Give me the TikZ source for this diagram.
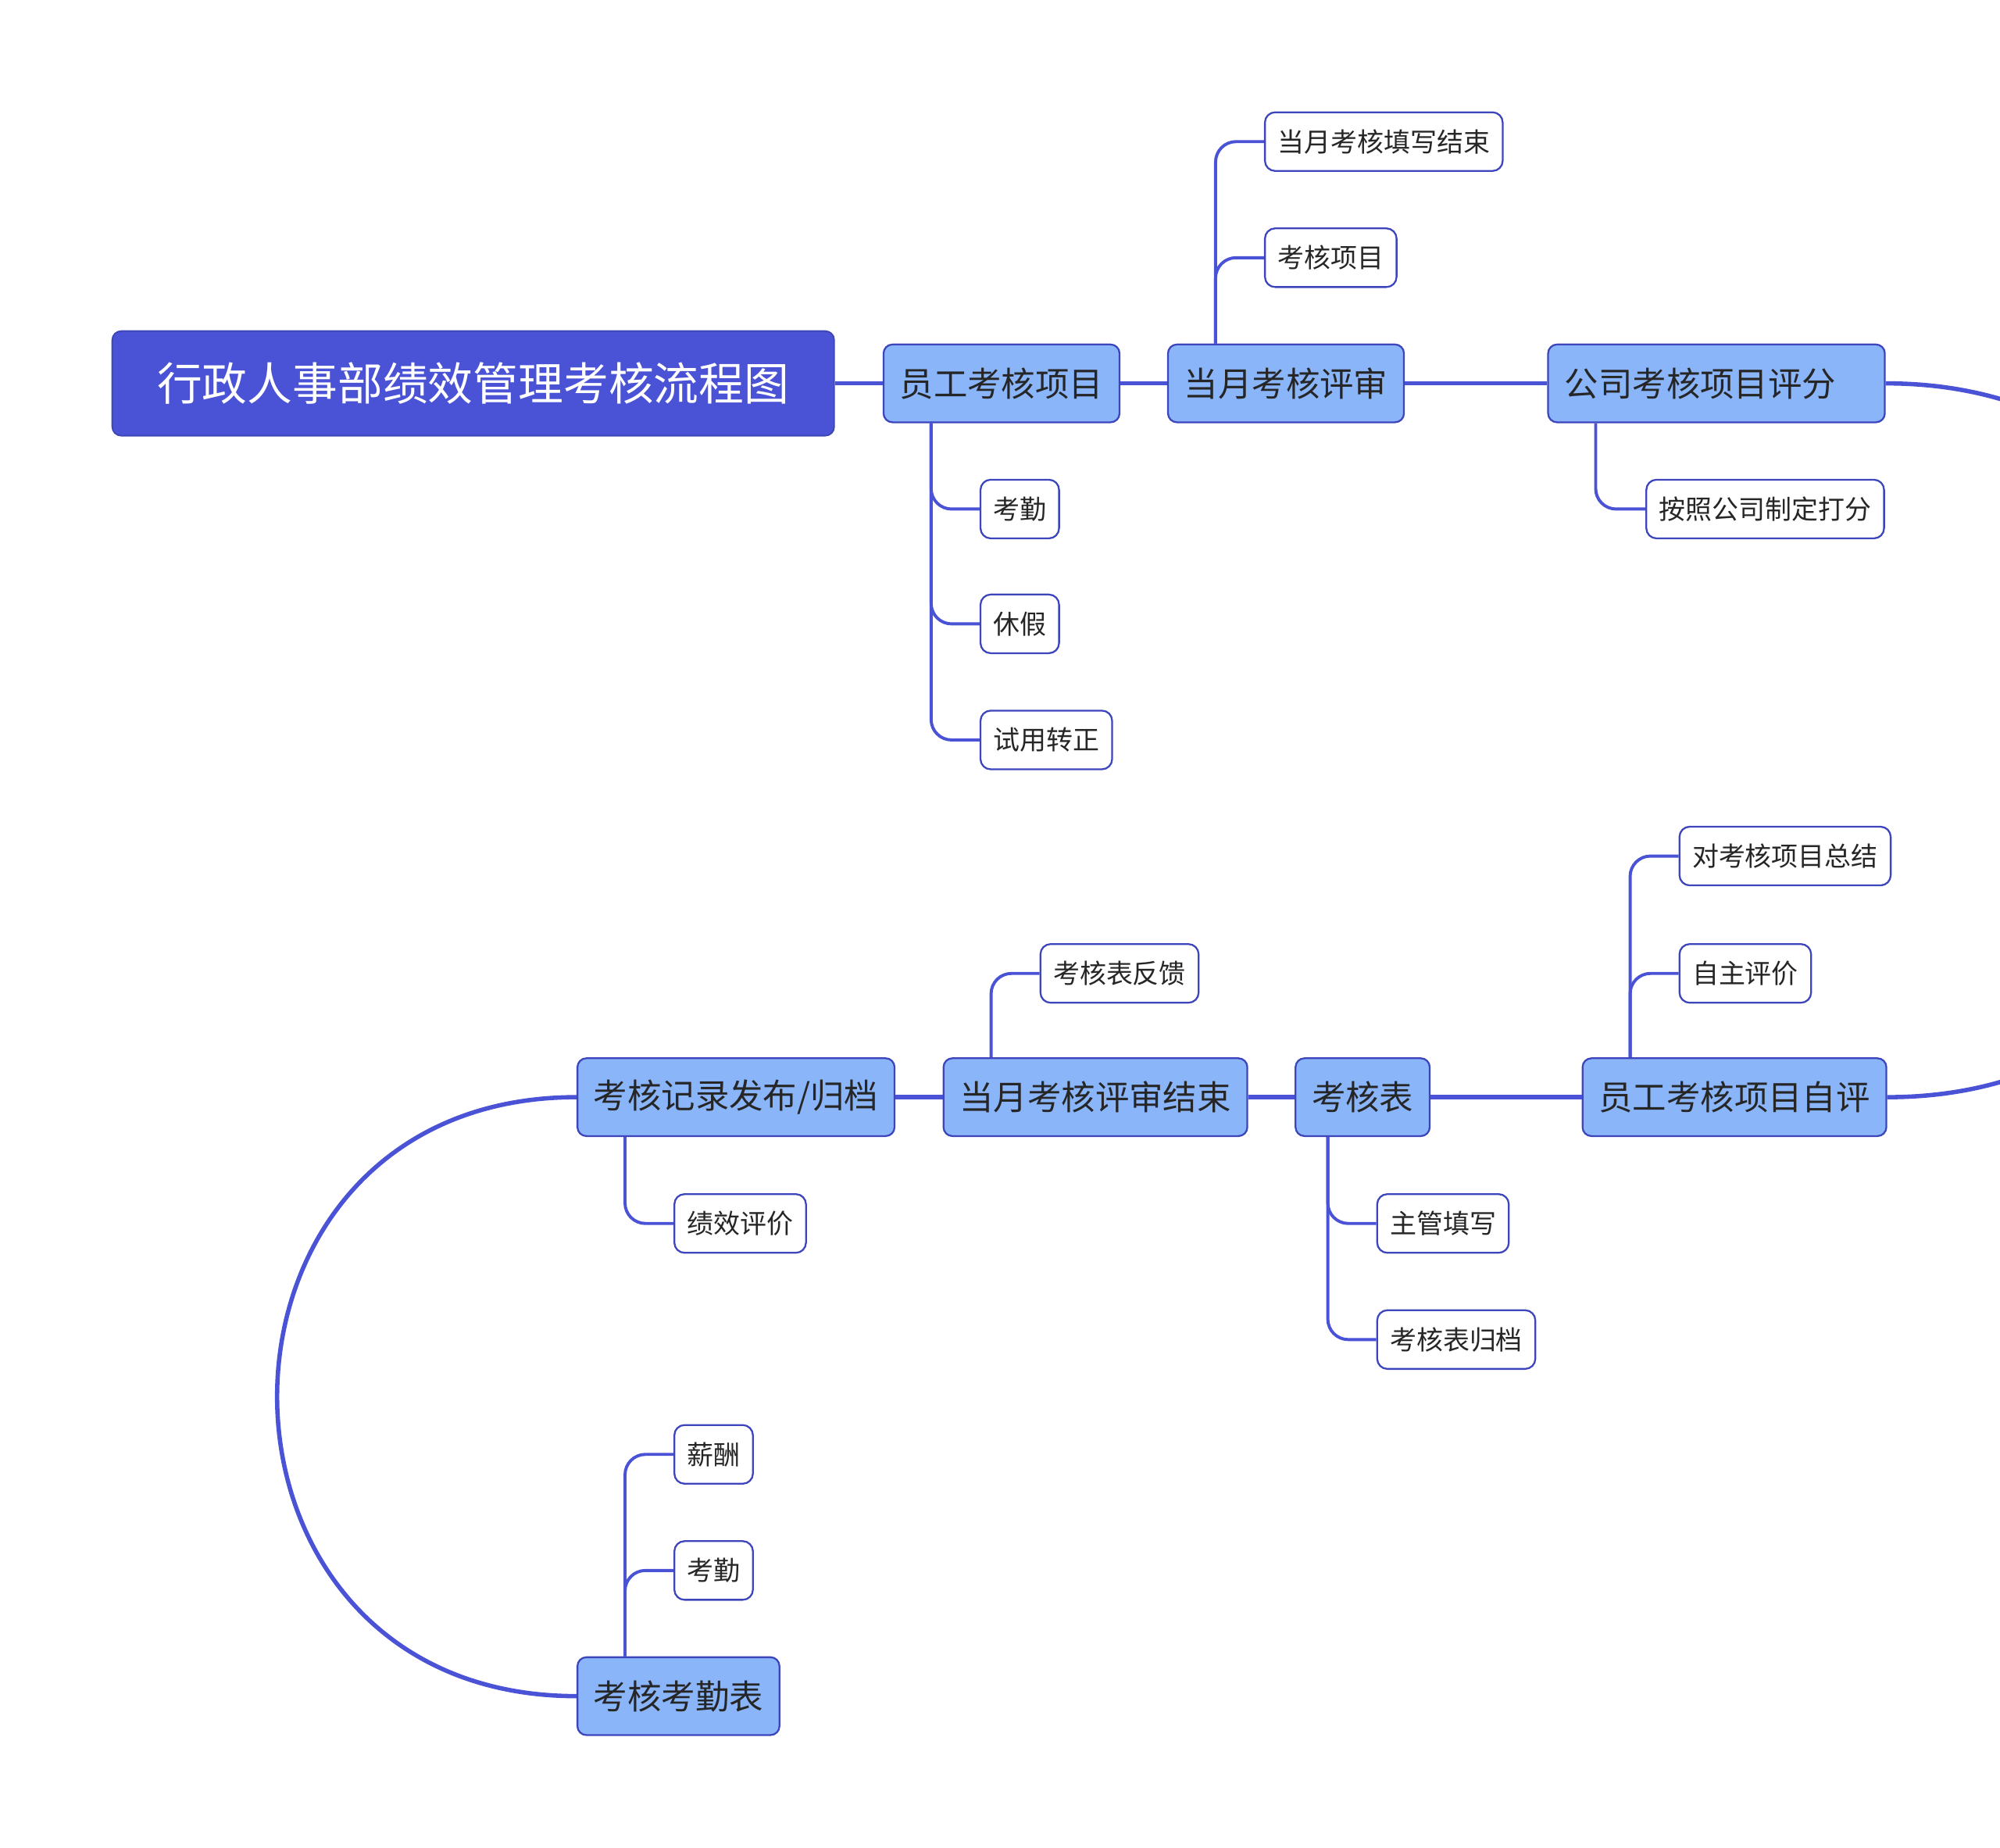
\documentclass[tikz,border=0pt]{standalone}
\usepackage{fontspec}
\setmainfont{Noto Sans CJK SC}
\usepackage{xcolor}
\usepackage{tikz}
\definecolor{deepblue}{HTML}{4A52D6}
\definecolor{paleblue}{HTML}{8AB5F9}
\definecolor{edgeblue}{HTML}{3D45BD}
\definecolor{inkgray}{HTML}{262626}
\newcommand{\RootFont}{\fontsize{17.7}{21}\selectfont}
\newcommand{\TopicFont}{\fontsize{13.3}{16}\selectfont}
\newcommand{\LeafFont}{\fontsize{10.4}{12.5}\selectfont}
\tikzset{
  root/.style={fill=deepblue,draw=deepblue!85!black,line width=0.6pt,rounded corners=3.5pt,
    text=white,minimum width=283pt,minimum height=41pt,inner sep=0pt,font=\RootFont},
  topic/.style={fill=paleblue,draw=edgeblue,line width=0.7pt,rounded corners=3.5pt,anchor=west,
    text=inkgray,minimum height=30.5pt,inner xsep=6.35pt,inner ysep=0pt,font=\TopicFont},
  leaf/.style={fill=white,draw=edgeblue,line width=0.7pt,rounded corners=4pt,anchor=west,
    text=inkgray,minimum height=23pt,inner xsep=5pt,inner ysep=0pt,font=\LeafFont},
  trunk/.style={deepblue,line width=1.7pt},
  twig/.style={deepblue,line width=1.2pt,rounded corners=8pt},
}

\begin{document}
\begin{tikzpicture}[x=0.5pt,y=-0.5pt]
  \clip (0,0) rectangle (1568,1448);
  % upper row
  \node[root] (title) at (371,300.5) {行政人事部绩效管理考核流程图};
  \node[topic] (n1) at (692,300.5) {员工考核项目};
  \node[topic] (n2) at (915,300.5) {当月考核评审};
  \node[topic,text width=119pt,align=left,inner xsep=6.5pt] (n3) at (1213,300.5) {公司考核项目评分};
  % lower row
  \node[topic] (n4) at (1240,860) {员工考核项目自评};
  \node[topic] (n5) at (1015,860) {考核表};
  \node[topic] (n6) at (739,860) {当月考核评审结束};
  \node[topic,minimum width=124pt] (n7) at (452,860) {考核记录发布/归档};
  \node[topic] (n8) at (452,1329.5) {考核考勤表};
  % leaves
  \node[leaf] (c11) at (768,399) {考勤};
  \node[leaf] (c12) at (768,489) {休假};
  \node[leaf] (c13) at (768,580) {试用转正};
  \node[leaf] (c21) at (991,111) {当月考核填写结束};
  \node[leaf] (c22) at (991,202) {考核项目};
  \node[leaf] (c31) at (1290,399) {按照公司制定打分};
  \node[leaf] (c41) at (1316,671) {对考核项目总结};
  \node[leaf] (c42) at (1316,763) {自主评价};
  \node[leaf] (c51) at (1079,959) {主管填写};
  \node[leaf] (c52) at (1079,1050) {考核表归档};
  \node[leaf] (c61) at (815,763) {考核表反馈};
  \node[leaf] (c71) at (528,959) {绩效评价};
  \node[leaf] (c81) at (528,1140) {薪酬};
  \node[leaf] (c82) at (528,1231) {考勤};
  % main flow
  \draw[trunk] (title.east) -- (n1.west);
  \draw[trunk] (n1.east) -- (n2.west);
  \draw[trunk] (n2.east) -- (n3.west);
  \draw[trunk] (n3.east) .. controls +(373,0) and +(373,0) .. (n4.east);
  \draw[trunk] (n4.west) -- (n5.east);
  \draw[trunk] (n5.west) -- (n6.east);
  \draw[trunk] (n6.west) -- (n7.east);
  \draw[trunk] (n7.west) .. controls +(-313,0) and +(-313,0) .. (n8.west);
  % branches
  \foreach \c in {c11,c12,c13}
    \draw[twig] ([xshift=19pt]n1.south west) |- (\c.west);
  \foreach \c in {c21,c22}
    \draw[twig] ([xshift=19pt]n2.north west) |- (\c.west);
  \draw[twig] ([xshift=19pt]n3.south west) |- (c31.west);
  \foreach \c in {c41,c42}
    \draw[twig] ([xshift=19pt]n4.north west) |- (\c.west);
  \foreach \c in {c51,c52}
    \draw[twig] ([xshift=13pt]n5.south west) |- (\c.west);
  \draw[twig] ([xshift=19pt]n6.north west) |- (c61.west);
  \draw[twig] ([xshift=19pt]n7.south west) |- (c71.west);
  \foreach \c in {c81,c82}
    \draw[twig] ([xshift=19pt]n8.north west) |- (\c.west);
\end{tikzpicture}
\end{document}
